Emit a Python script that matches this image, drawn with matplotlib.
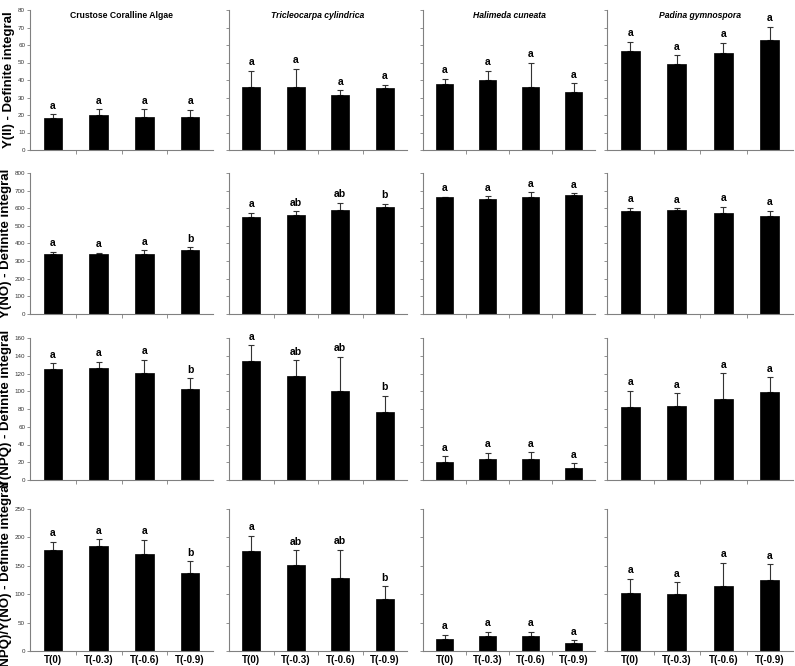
import numpy as np
import matplotlib.pyplot as plt

plt.rcParams['font.family'] = ['Liberation Sans', 'DejaVu Sans']

# categories
treatments = ["T(0)", "T(-0.3)", "T(-0.6)", "T(-0.9)"]
species = ["Crustose Coralline Algae", "Tricleocarpa cylindrica",
           "Halimeda cuneata", "Padina gymnospora"]
ylabels = ["Y(II) - Definite integral", "Y(NO) - Definite integral",
           "Y(NPQ) - Definite integral", "Y(NPQ)/Y(NO) - Definite integral"]

# Y(II)
yii_mean = [[18.1, 20.0, 19.1, 18.7], [36.1, 36.1, 31.2, 35.2],
            [37.5, 39.9, 35.9, 32.9], [56.3, 49.1, 55.2, 62.9]]
yii_err = [[2.3, 3.4, 4.3, 4.3], [9.3, 10.3, 3.0, 2.0],
           [3.2, 5.3, 14.0, 5.3], [5.5, 5.0, 6.0, 7.6]]
yii_sig = [["a", "a", "a", "a"], ["a", "a", "a", "a"],
           ["a", "a", "a", "a"], ["a", "a", "a", "a"]]

# Y(NO)
yno_mean = [[342, 338, 342, 363], [550, 563, 590, 609],
            [662, 652, 662, 675], [585, 588, 575, 558]]
yno_err = [[12, 10, 19, 15], [25, 19, 40, 17],
           [4, 16, 28, 10], [18, 12, 33, 27]]
yno_sig = [["a", "a", "a", "b"], ["a", "ab", "ab", "b"],
           ["a", "a", "a", "a"], ["a", "a", "a", "a"]]

# Y(NPQ)
ynpq_mean = [[124.6, 126.0, 120.5, 102.0], [134.0, 117.6, 100.7, 77.0],
             [20.0, 23.5, 24.0, 14.0], [82.5, 83.0, 91.5, 99.0]]
ynpq_err = [[7.0, 7.0, 15.0, 12.5], [17.7, 17.6, 38.0, 18.0],
            [7.0, 7.0, 7.0, 5.0], [18.0, 15.0, 29.0, 17.0]]
ynpq_sig = [["a", "a", "a", "b"], ["a", "ab", "ab", "b"],
            ["a", "a", "a", "a"], ["a", "a", "a", "a"]]

# Y(NPQ)/Y(NO)
ratio_mean = [[177, 185, 171, 138], [176, 151, 128, 91],
              [20.5, 26, 27, 14.6], [102, 100.5, 114, 125]]
ratio_err = [[15, 12, 25, 20], [27, 26, 50, 23],
             [8, 8, 7, 4], [25, 20.5, 41.5, 28]]
ratio_sig = [["a", "a", "a", "b"], ["a", "ab", "ab", "b"],
             ["a", "a", "a", "a"], ["a", "a", "a", "a"]]

rows = [(yii_mean, yii_err, yii_sig, 80, 10),
        (yno_mean, yno_err, yno_sig, 800, 100),
        (ynpq_mean, ynpq_err, ynpq_sig, 160, 20),
        (ratio_mean, ratio_err, ratio_sig, 250, 50)]

# panel placement in pixels
W, H = 795, 666
lefts = [30, 229, 423, 607]
rights = [213, 407, 595, 793]
tops = [10, 173, 338, 509]
bottoms = [150, 314, 480, 651]

fig = plt.figure(figsize=(W / 100, H / 100), dpi=100)
axc = '#808080'
x = np.arange(len(treatments))

for r, (means, errs, sigs, ymax, step) in enumerate(rows):
    for c in range(4):
        ax = fig.add_axes([lefts[c] / W, 1 - bottoms[r] / H,
                           (rights[c] - lefts[c]) / W,
                           (bottoms[r] - tops[r]) / H])
        m = np.array(means[c], dtype=float)
        e = np.array(errs[c], dtype=float)
        ax.bar(x, m, width=0.4, color='black', edgecolor='black',
               linewidth=0.5, zorder=2)
        ax.errorbar(x, m, yerr=[np.zeros_like(e), e], fmt='none',
                    ecolor='#333333', elinewidth=0.8, capsize=2,
                    capthick=0.8, zorder=1)
        for xi, top, s in zip(x, m + e, sigs[c]):
            ax.annotate(s, (xi, top), xytext=(0, 2.5),
                        textcoords='offset points', ha='center',
                        va='bottom', fontsize=7.5, fontweight='bold')
        ax.set_xlim(-0.5, 3.5)
        ax.set_ylim(0, ymax)
        ax.set_yticks(np.arange(0, ymax + 1, step))
        ax.set_xticks(x)
        ax.set_xticks([0.5, 1.5, 2.5], minor=True)
        ax.tick_params(axis='x', which='major', length=0, pad=3)
        ax.tick_params(axis='x', which='minor', length=3, width=0.6,
                       color=axc)
        ax.tick_params(axis='y', length=2, width=0.6, color=axc,
                       labelsize=4.5, pad=1.5, labelcolor='#333333')
        if r == 3:
            ax.set_xticklabels(treatments, fontsize=7, fontweight='bold')
        else:
            ax.set_xticklabels([])
        if c == 0:
            ax.set_ylabel(ylabels[r], fontsize=9.5, fontweight='bold',
                          labelpad=2)
        else:
            ax.set_yticklabels([])
        for sp in ['top', 'right']:
            ax.spines[sp].set_visible(False)
        for sp in ['left', 'bottom']:
            ax.spines[sp].set_color(axc)
            ax.spines[sp].set_linewidth(0.8)
        if r == 0:
            ax.text(0.5, 0.96, species[c], transform=ax.transAxes,
                    ha='center', va='center', fontsize=6.2,
                    fontweight='bold',
                    fontstyle='normal' if c == 0 else 'italic')

fig.savefig('out.png', dpi=100)
